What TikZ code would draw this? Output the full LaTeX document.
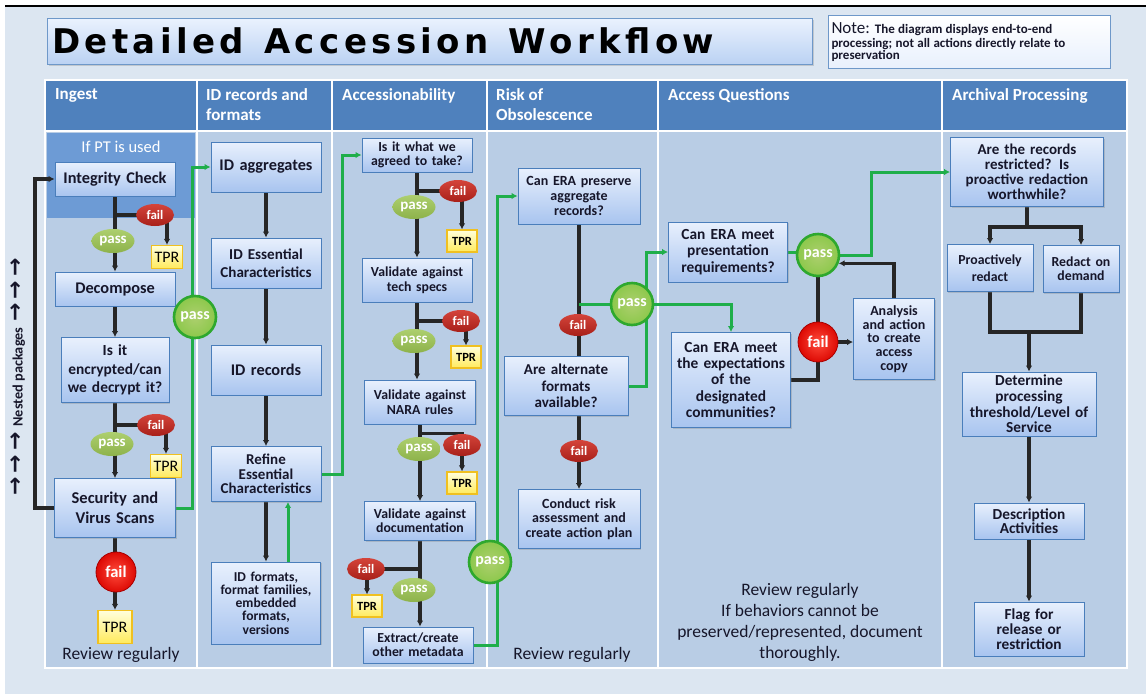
\documentclass[tikz,border=0pt]{standalone}
\usepackage{fontspec}
\setmainfont{Carlito}
\newfontfamily\titlefont{DejaVu Sans}[LetterSpace=13]
\newfontfamily\symfont{DejaVu Sans}
\usetikzlibrary{arrows.meta,shapes.geometric,shadows}
\newcommand{\fsz}[2]{\fontsize{#1pt}{#2pt}\selectfont}

\definecolor{pagebg}{HTML}{DCE6F1}
\definecolor{headblue}{HTML}{4F81BD}
\definecolor{bodyblue}{HTML}{B9CDE5}
\definecolor{ptblue}{HTML}{6D9BD5}
\definecolor{boxedge}{HTML}{4A7EBB}
\definecolor{boxtop}{HTML}{E8F0FD}
\definecolor{boxbot}{HTML}{A8C4EF}
\definecolor{boxtext}{HTML}{16162A}
\definecolor{wiregreen}{HTML}{1FAE4A}
\definecolor{passtop}{HTML}{ADCF6E}
\definecolor{passbot}{HTML}{8DB24A}
\definecolor{failtop}{HTML}{D4443A}
\definecolor{failbot}{HTML}{A82019}
\definecolor{passbig}{HTML}{8CC84B}
\definecolor{passring}{HTML}{2EA82E}
\definecolor{failin}{HTML}{FF4B3B}
\definecolor{failout}{HTML}{DD0A04}
\definecolor{failring}{HTML}{A80000}
\definecolor{tprtop}{HTML}{FFFFDC}
\definecolor{tprbot}{HTML}{FFEA5C}
\definecolor{tpredge}{HTML}{F0C020}
\definecolor{titletop}{HTML}{EAF2FE}
\definecolor{titlebot}{HTML}{BBD2F3}

\pgfdeclarelayer{bg}
\pgfdeclarelayer{wires}
\pgfsetlayers{bg,wires,main}

\tikzset{
  box/.style={draw=boxedge, line width=0.9pt, top color=boxtop, bottom color=boxbot,
    align=center, inner xsep=2pt, inner ysep=1pt, text=boxtext,
    drop shadow={shadow xshift=1.2pt, shadow yshift=-1.2pt, opacity=0.3}},
  head/.style={anchor=north west, align=left, inner sep=0pt, text=white,
    font=\bfseries\fsz{17}{20}},
  passs/.style={ellipse, top color=passtop, bottom color=passbot, minimum width=43pt,
    minimum height=24pt, inner sep=0pt, text=white, font=\bfseries\fsz{15}{15}},
  fails/.style={ellipse, top color=failtop, bottom color=failbot, minimum width=38pt,
    minimum height=22pt, inner sep=0pt, text=white, font=\bfseries\fsz{13}{13}},
  passb/.style={circle, draw=passring, line width=2.6pt, inner color=passtop,
    outer color=passbig, minimum size=42pt, inner sep=0pt, text=white,
    font=\bfseries\fsz{16}{16}},
  failb/.style={circle, draw=failring, line width=0.8pt, inner color=failin,
    outer color=failout, minimum size=40pt, inner sep=0pt, text=white,
    font=\bfseries\fsz{16.5}{16.5}},
  tprA/.style={draw=tpredge, line width=1.2pt, top color=tprtop, bottom color=tprbot,
    inner sep=0pt, minimum width=31pt, minimum height=23pt, text=black,
    font=\fsz{16}{16}},
  tprB/.style={tprA, minimum width=30pt, minimum height=22pt,
    font=\bfseries\fsz{12.5}{12.5}},
  remark/.style={align=center, inner sep=0pt, text=boxtext, font=\fsz{17.5}{21}},
  blkline/.style={line width=3.2pt, black!85},
  blk/.style={blkline, -{Latex[length=6pt,width=6.5pt]}},
  grnline/.style={line width=3pt, wiregreen},
  grn/.style={grnline, -{Latex[length=6pt,width=6.5pt]}}
}

\begin{document}
\begin{tikzpicture}[x=1pt,y=-1pt]
%%%%% START %%%%%
\useasboundingbox (0,0) rectangle (1146,694);

\begin{pgfonlayer}{bg}
\fill[white] (0,0) rectangle (1146,694);
\fill[pagebg] (5,7) rectangle (1146,694);
\draw[line width=2.5pt] (5,6) -- (1146,6);
% swimlanes
\fill[headblue] (45,80) rectangle (1127,131);
\fill[bodyblue] (45,131) rectangle (1127,668);
\fill[ptblue] (47,133) rectangle (195,218);
\draw[white, line width=1.2pt] (45,80) rectangle (1127,668);
\draw[white, line width=1.2pt] (45,131) -- (1127,131);
\foreach \cx in {197,332,487,658,942}
  \draw[white, line width=1.2pt] (\cx,80) -- (\cx,668);
\end{pgfonlayer}

% title and note
\node[draw=boxedge!80, line width=1pt, top color=titletop, bottom color=titlebot,
  minimum width=765pt, minimum height=46pt, text width=755pt, align=left,
  inner xsep=5pt, drop shadow={shadow xshift=1.5pt, shadow yshift=-1.5pt, opacity=0.3}]
  (title) at (429.5,41) {\titlefont\bfseries\fsz{34}{34}Detailed\hspace{20pt}Accession\hspace{20pt}Workflow};
\node[draw=boxedge!80, line width=1pt, top color=white, bottom color=boxtop,
  anchor=north west, text width=276pt, minimum height=53pt, align=left, inner sep=3pt,
  text=boxtext] (note) at (828,15)
  {\bfseries\fsz{13}{14}{\mdseries\fontsize{17pt}{14pt}\selectfont Note:} The diagram displays end-to-end\\
   processing; not all actions directly relate to\\preservation};

% lane headers
\node[head] (hingest) at (55,88) {Ingest};
\node[head] (hidrec) at (206,88) {ID records and\\formats};
\node[head] (haccess) at (342,88) {Accessionability};
\node[head] (hrisk) at (496,88) {Risk of\\Obsolescence};
\node[head] (hquest) at (668,88) {Access Questions};
\node[head] (harch) at (952,88) {Archival Processing};

% Ingest
\node[text=white, font=\fsz{16.5}{16.5}] (ifpt) at (121,147) {If PT is used};
\node[box, font=\bfseries\fsz{16.3}{18}, text width=116pt, minimum height=34pt] (integ) at (115,179) {Integrity Check};
\node[fails] (fail1) at (155,215) {fail};
\node[passs] (pass1) at (113,241) {pass};
\node[tprA] (tpr1) at (167,257) {TPR};
\node[box, font=\bfseries\fsz{16.3}{18}, text width=116pt, minimum height=34pt] (decomp) at (115,289) {Decompose};
\node[box, font=\bfseries\fsz{15.4}{18.3}, text width=104pt, minimum height=65pt] (encr) at (115,370) {Is it\\encrypted/can\\we decrypt it?};
\node[fails] (fail2) at (156,425) {fail};
\node[passs] (pass2) at (112,444) {pass};
\node[tprA] (tpr2) at (166,466) {TPR};
\node[box, font=\bfseries\fsz{16.5}{19.5}, text width=117pt, minimum height=59pt] (secur) at (115,508) {Security and\\Virus Scans};
\node[failb] (failbig1) at (116,572) {fail};
\node[tprA, minimum width=34pt, minimum height=33pt] (tpr3) at (115,627) {TPR};
\node[remark] (review1) at (121,655) {Review regularly};
\node[passb] (passbig1) at (195,317) {pass};
\node[rotate=90, inner sep=0pt, text=boxtext, font=\bfseries\fsz{14.3}{14.3}] (nested) at (18,377)
  {{\symfont\bfseries\fsz{22}{22}→\hspace{4pt}→\hspace{4pt}→}\hspace{6pt}Nested packages\hspace{6pt}{\symfont\bfseries\fsz{22}{22}→\hspace{4pt}→\hspace{4pt}→}};

% ID records and formats
\node[box, font=\bfseries\fsz{16.3}{18}, text width=106pt, minimum height=50pt] (idagg) at (266,167) {ID aggregates};
\node[box, font=\bfseries\fsz{15.1}{18}, text width=106pt, minimum height=50pt] (idess) at (266,263) {ID Essential\\Characteristics};
\node[box, font=\bfseries\fsz{16.3}{18}, text width=106pt, minimum height=50pt] (idrec) at (266,370) {ID records};
\node[box, font=\bfseries\fsz{15}{14.5}, text width=106pt, minimum height=55pt] (refine) at (266,474) {Refine\\Essential\\Characteristics};
\node[box, font=\bfseries\fsz{13.6}{13.2}, text width=105pt, minimum height=82pt] (idfmt) at (266,603) {ID formats,\\format families,\\embedded\\formats,\\versions};

% Accessionability
\node[box, font=\bfseries\fsz{13.8}{14}, text width=106pt, minimum height=34pt] (agreed) at (417,155) {Is it what we\\agreed to take?};
\node[fails] (fail3) at (458,191) {fail};
\node[passs] (pass3) at (414,207) {pass};
\node[tprB] (tpr4) at (462,241) {TPR};
\node[box, font=\bfseries\fsz{13.8}{14.7}, text width=106pt, minimum height=44pt] (tech) at (417,280) {Validate against\\tech specs};
\node[fails] (fail4) at (461,321) {fail};
\node[passs] (pass4) at (414,341) {pass};
\node[tprB] (tpr5) at (466,357) {TPR};
\node[box, font=\bfseries\fsz{13.8}{14.5}, text width=107pt, minimum height=44pt] (nara) at (420,402) {Validate against\\NARA rules};
\node[fails] (fail5) at (462,445) {fail};
\node[passs] (pass5) at (419,449) {pass};
\node[tprB] (tpr6) at (462,483) {TPR};
\node[box, font=\bfseries\fsz{13.8}{14.3}, text width=107pt, minimum height=39pt] (doc) at (420,521) {Validate against\\documentation};
\node[fails] (fail6) at (366,569) {fail};
\node[passs] (pass6) at (414,590) {pass};
\node[tprB] (tpr7) at (367,606) {TPR};
\node[box, font=\bfseries\fsz{13.8}{14}, text width=106pt, minimum height=36pt] (extract) at (418,645) {Extract/create\\other metadata};
\node[passb] (passbig2) at (490,562) {pass};

% Risk of Obsolescence
\node[box, font=\bfseries\fsz{14}{15}, text width=118pt, minimum height=56pt] (canpres) at (579,196) {Can ERA preserve\\aggregate\\records?};
\node[fails] (fail7) at (578,325) {fail};
\node[box, font=\bfseries\fsz{15.1}{16.7}, text width=120pt, minimum height=59pt] (altfmt) at (566,386) {Are alternate\\formats\\available?};
\node[passb] (passbig3) at (632,304) {pass};
\node[fails] (fail8) at (579,451) {fail};
\node[box, font=\bfseries\fsz{14}{14.7}, text width=118pt, minimum height=59pt] (conduct) at (579,519) {Conduct risk\\assessment and\\create action plan};
\node[remark] (review2) at (572,655) {Review regularly};
\coordinate (gv) at (646,304);

% Access Questions
\node[box, font=\bfseries\fsz{15.4}{16.3}, text width=115pt, minimum height=60pt] (canmeet) at (728,252) {Can ERA meet\\presentation\\requirements?};
\node[passb] (passbig4) at (818,255) {pass};
\node[box, font=\bfseries\fsz{15.4}{16.4}, text width=115pt, minimum height=95pt] (expect) at (731,380) {Can ERA meet\\the expectations\\of the\\designated\\communities?};
\node[failb] (failbig2) at (818,342) {fail};
\node[box, font=\bfseries\fsz{14}{13.6}, text width=77pt, minimum height=81pt] (analysis) at (894,339) {Analysis\\and action\\to create\\access\\copy};
\node[remark] (review3) at (800,622) {Review regularly\\If behaviors cannot be\\preserved/represented, document\\thoroughly.};

% Archival Processing
\node[box, font=\bfseries\fsz{15}{15}, text width=149pt, minimum height=69pt] (records) at (1027,172) {Are the records\\restricted? Is\\proactive redaction\\worthwhile?};
\node[box, font=\bfseries\fsz{13.8}{16.7}, text width=82pt, minimum height=47pt] (proact) at (990,268) {Proactively\\redact};
\node[box, font=\bfseries\fsz{13.8}{14}, text width=72pt, minimum height=47pt] (ondem) at (1081,269) {Redact on\\demand};
\node[box, font=\bfseries\fsz{15.3}{15.7}, text width=130pt, minimum height=64pt] (determ) at (1029,404) {Determine\\processing\\threshold/Level of\\Service};
\node[box, font=\bfseries\fsz{15.3}{14}, text width=106pt, minimum height=36pt] (descr) at (1029,521) {Description\\Activities};
\node[box, font=\bfseries\fsz{15.3}{14.7}, text width=106pt, minimum height=54pt] (flag) at (1029,629) {Flag for\\release or\\restriction};
\coordinate (rsplit) at (1027,227);
\coordinate (rjoin) at (1029,332);

\begin{pgfonlayer}{wires}
% ingest flow
\draw[blk] (integ) -- (decomp);
\draw[blk] (integ.south |- fail1) -| (tpr1);
\draw[blk] (decomp) -- (encr);
\draw[blk] (encr) -- (secur);
\draw[blk] (encr.south |- fail2) -| (tpr2);
\draw[blk] (secur) -- (tpr3);
\draw[blk] (secur.west) -- ++(-19,0) |- (integ.west);
\draw[grn] (secur.east) -- ++(17,0) |- (idagg.west);

% id records
\draw[blk] (idagg) -- (idess);
\draw[blk] (idess) -- (idrec);
\draw[blk] (idrec) -- (refine);
\draw[blk] (refine) -- (idfmt);
\draw[grn] ([xshift=22pt]idfmt.north) -- ([xshift=22pt]refine.south);
\draw[grn] (refine.east) -- ++(21,0) |- (agreed.west);

% accessionability
\draw[blk] (agreed) -- (tech);
\draw[blk] (agreed.south |- fail3) -| (tpr4);
\draw[blk] (tech.south) -- (tech.south |- nara.north);
\draw[blk] (tech.south |- fail4) -| (tpr5);
\draw[blk] (nara) -- (doc);
\draw[blk] (nara.south |- fail5.north) -| (tpr6);
\draw[blk] (doc.south) -- (doc.south |- extract.north);
\draw[blk] (doc.south |- fail6) -| (tpr7);
\draw[grn] (extract.east) -- ++(24,0) |- (canpres.west);

% risk
\draw[blkline] (canpres.south) -- (canpres.south |- altfmt.north);
\draw[blk] (altfmt.south -| canpres.south) -- (conduct.north);
\draw[grnline] (canpres.south |- passbig3) -- (passbig3);
\draw[grn] (altfmt.east) -| (gv) |- (canmeet.west);
\draw[grn] (passbig3) -| (expect.north);

% access questions
\draw[grnline] (canmeet.east) -- (canmeet.east -| passbig4);
\draw[grn] (passbig4.east) -- ++(31,0) |- (records.west);
\draw[blkline] (passbig4) -- (failbig2);
\draw[blkline] (expect.east) -| (failbig2);
\draw[blk] (failbig2.east) -- (failbig2.east -| analysis.west);
\draw[blk] (analysis.north) |- (passbig4.-22);

% archival
\draw[blkline] (records.south) -- (rsplit);
\draw[blk] (rsplit) -| (proact.north);
\draw[blk] (rsplit) -| (ondem.north);
\draw[blkline] (proact.south) |- (rjoin) -| (ondem.south);
\draw[blk] (rjoin) -- (determ.north);
\draw[blk] (determ) -- (descr);
\draw[blk] (descr) -- (flag);
\end{pgfonlayer}

%%%%% END %%%%%
\end{tikzpicture}
\end{document}
